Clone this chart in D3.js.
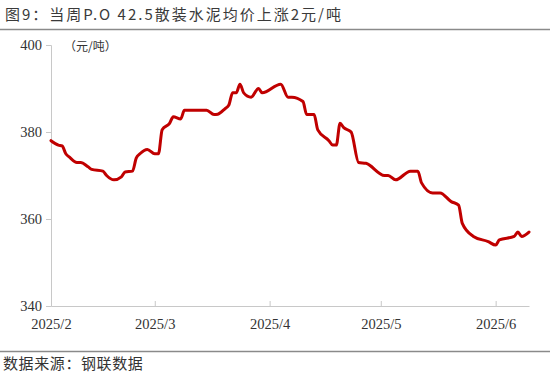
<!DOCTYPE html>
<html lang="zh">
<head>
<meta charset="UTF-8">
<title>P.O 42.5散装水泥均价</title>
<script src="https://d3js.org/d3.v7.min.js"></script>
<style>
    body { margin: 0; background: #fff; }
    .line { fill: none; stroke: #c00000; stroke-width: 3px; stroke-linejoin: round; stroke-linecap: round; }
    .tick-label { font-family: "Liberation Serif", "DejaVu Serif", serif; font-size: 14.5px; fill: #333; }
    .cjk { font-family: "Noto Sans CJK SC", sans-serif; }
</style>
</head>
<body>
<div id="chart"></div>
<script>
// data
var dates = [
    "2025-02-01","2025-02-03","2025-02-04","2025-02-05","2025-02-06","2025-02-08","2025-02-09",
    "2025-02-11","2025-02-12","2025-02-15","2025-02-16","2025-02-18","2025-02-20","2025-02-21",
    "2025-02-23","2025-02-24","2025-02-25","2025-02-27","2025-03-01","2025-03-02","2025-03-03",
    "2025-03-05","2025-03-06","2025-03-08","2025-03-09","2025-03-15","2025-03-17","2025-03-18",
    "2025-03-20","2025-03-21","2025-03-22","2025-03-23","2025-03-24","2025-03-25","2025-03-27",
    "2025-03-29","2025-03-30","2025-04-04","2025-04-06","2025-04-07","2025-04-10","2025-04-11",
    "2025-04-13","2025-04-14","2025-04-17","2025-04-18","2025-04-19","2025-04-20","2025-04-21",
    "2025-04-23","2025-04-25","2025-04-27","2025-05-02","2025-05-03","2025-05-05","2025-05-09",
    "2025-05-11","2025-05-12","2025-05-15","2025-05-17","2025-05-20","2025-05-22","2025-05-23",
    "2025-05-26","2025-05-30","2025-06-01","2025-06-02","2025-06-06","2025-06-07","2025-06-08",
    "2025-06-10"
];
var prices = [
    378, 377, 376.8, 375, 374.2, 373, 373,
    372, 371.4, 371, 370, 369, 369.7, 370.8,
    371, 374, 375, 376, 375, 375, 380.5,
    382, 383.5, 383, 385, 385, 384, 384.1,
    385.4, 386.2, 389, 389, 391, 389, 388,
    390, 389, 391, 388, 388, 387, 384,
    384, 380.5, 378, 377, 377, 382, 381,
    380, 373, 372.8, 370, 370, 369, 371,
    371, 368.3, 366, 366, 364, 363.2, 359,
    356, 354.8, 354, 355.2, 356, 357, 356,
    357
];
var monthTicks = ["2025-02-01","2025-03-01","2025-04-01","2025-05-01","2025-06-01"];
var monthLabels = ["2025/2","2025/3","2025/4","2025/5","2025/6"];
var yTicks = [340, 360, 380, 400];

var W = 550, H = 381;
var parse = d3.timeParse("%Y-%m-%d");
var data = dates.map(function(d, i) { return { date: parse(d), value: prices[i] }; });

var svg = d3.select("#chart").append("svg")
    .attr("width", W).attr("height", H);

// title + rules
svg.append("text").attr("class", "cjk")
    .attr("x", 5).attr("y", 20)
    .attr("font-size", 15).attr("letter-spacing", 2).attr("fill", "#3a3a3a")
    .text("图9：当周P.O 42.5散装水泥均价上涨2元/吨");
svg.append("line").attr("x1", 0).attr("x2", W).attr("y1", 29.5).attr("y2", 29.5)
    .attr("stroke", "#8a8a8a").attr("stroke-width", 1.5);
svg.append("line").attr("x1", 0).attr("x2", W).attr("y1", 351.5).attr("y2", 351.5)
    .attr("stroke", "#8a8a8a").attr("stroke-width", 1.5);
svg.append("text").attr("class", "cjk")
    .attr("x", 3).attr("y", 369)
    .attr("font-size", 15).attr("letter-spacing", 0.6).attr("fill", "#333")
    .text("数据来源：钢联数据");

// scales
var x = d3.scaleTime().domain([parse("2025-02-01"), parse("2025-06-10")]).range([51, 529]);
var y = d3.scaleLinear().domain([340, 400]).range([306, 45]);

// y axis
var yAxis = d3.axisLeft(y).tickValues(yTicks).tickSize(5).tickPadding(4);
var gy = svg.append("g").attr("transform", "translate(51,0)").call(yAxis);
gy.select(".domain").attr("stroke", "#c8c8c8");
gy.selectAll(".tick line").attr("stroke", "#c8c8c8");
gy.selectAll(".tick text").attr("class", "tick-label").attr("fill", "#333");

// x axis, ticks pointing up into the plot
var xAxis = d3.axisBottom(x)
    .tickValues(monthTicks.map(parse))
    .tickFormat(function(d, i) { return monthLabels[i]; })
    .tickSizeInner(-5).tickSizeOuter(0).tickPadding(13);
var gx = svg.append("g").attr("transform", "translate(0,306)").call(xAxis);
gx.select(".domain").attr("stroke", "#c8c8c8");
gx.selectAll(".tick line").attr("stroke", "#c8c8c8");
gx.selectAll(".tick text").attr("class", "tick-label").attr("fill", "#333");

// unit label
svg.append("text").attr("class", "cjk")
    .attr("x", 64).attr("y", 51)
    .attr("font-size", 12).attr("fill", "#333")
    .text("（元/吨）");

// line
var line = d3.line()
    .x(function(d) { return x(d.date); })
    .y(function(d) { return y(d.value); })
    .curve(d3.curveMonotoneX);
svg.append("path").datum(data).attr("class", "line").attr("d", line);
</script>
</body>
</html>
